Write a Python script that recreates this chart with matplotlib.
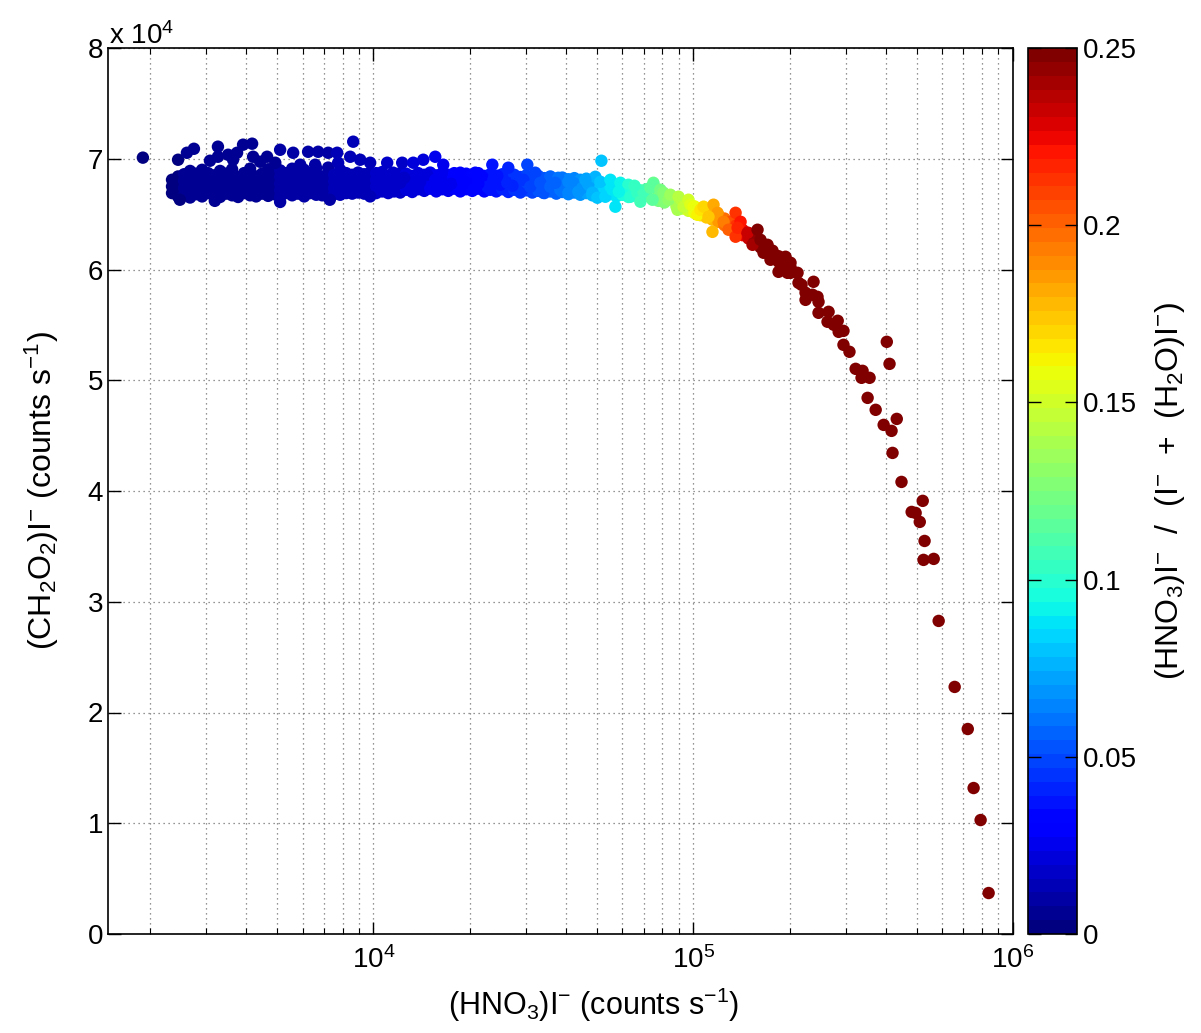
import numpy as np
import matplotlib
matplotlib.use('agg')
import matplotlib.pyplot as plt
from matplotlib.ticker import LogLocator, NullFormatter, FuncFormatter

plt.rcParams['font.family'] = ['Liberation Sans', 'DejaVu Sans']
plt.rcParams['mathtext.fontset'] = 'custom'
plt.rcParams['mathtext.rm'] = 'Liberation Sans'
plt.rcParams['mathtext.it'] = 'Liberation Sans:italic'
plt.rcParams['mathtext.bf'] = 'Liberation Sans:bold'
plt.rcParams['mathtext.default'] = 'regular'

TICK_FS = 20
LABEL_FS = 22

# dense part of the cloud: one x value per column, several y values in each
band_x = [2344, 2448, 2556, 2669, 2787, 2910, 3038, 3172, 3313, 3459,
          3612, 3771, 3937, 4112, 4294, 4483, 4682, 4889, 5105, 5331,
          5566, 5813, 6070, 6338, 6618, 6911, 7216, 7534, 7868, 8215,
          8578, 8954, 9350, 9763, 10195, 10646, 11117, 11605, 12120,
          12656, 13216, 13800, 14410, 15045, 15711, 16406, 17131, 17885, 18676,
          19502, 20366, 21267, 22204, 23186, 24210, 25281, 26399, 27562, 28782,
          30055, 31384, 32772, 34214, 35727, 37307, 38957, 40680, 42470, 44348,
          46310, 48358, 50497, 52723, 55055, 57490, 60034, 62688, 65450, 68344,
          71366, 77818, 81260, 88587, 92505, 96605, 100880, 105320, 109980, 114840,
          119930, 125240, 130770, 136560, 142560, 148870, 155460, 162310, 169490, 176980,
          184810, 192960, 201480]
band_ratio = [0.0037, 0.0038, 0.0040, 0.0042, 0.0044, 0.0045, 0.0047, 0.0050, 0.0052, 0.0054,
              0.0056, 0.0059, 0.0062, 0.0064, 0.0067, 0.0070, 0.0073, 0.0076, 0.0080, 0.0083,
              0.0087, 0.0091, 0.0095, 0.0099, 0.0103, 0.0108, 0.0113, 0.0118, 0.0123, 0.0128,
              0.0134, 0.0140, 0.0146, 0.0153, 0.0159, 0.0166, 0.0174, 0.0181, 0.0189,
              0.0198, 0.0207, 0.0216, 0.0225, 0.0235, 0.0245, 0.0256, 0.0268, 0.0279, 0.0292,
              0.0305, 0.0318, 0.0332, 0.0347, 0.0362, 0.0378, 0.0395, 0.0412, 0.0431, 0.0450,
              0.0470, 0.0490, 0.0512, 0.0535, 0.0558, 0.0583, 0.0609, 0.0636, 0.0664, 0.0693,
              0.0724, 0.0756, 0.0789, 0.0824, 0.0860, 0.0898, 0.0938, 0.0980, 0.1023, 0.1068,
              0.1115, 0.122, 0.127, 0.138, 0.145, 0.151, 0.158, 0.165, 0.172, 0.179,
              0.187, 0.196, 0.204, 0.213, 0.223, 0.233, 0.243, 0.254, 0.265, 0.277,
              0.289, 0.302, 0.315]
band_y = [
    [66900, 67500, 68100],
    [66600, 67200, 67800, 68400],
    [66750, 67350, 68000, 68600],
    [66500, 67100, 67700, 68300, 68900],
    [66800, 67400, 68000, 68650],
    [66600, 67200, 67800, 68400, 69000],
    [66900, 67500, 68100, 68700],
    [66700, 67300, 67900, 68500],
    [66550, 67150, 67750, 68350, 68900],
    [66850, 67450, 68050, 68650],
    [66700, 67300, 67900, 68500, 69050],
    [66550, 67150, 67750, 68350],
    [66900, 67500, 68100, 68700],
    [66700, 67300, 67900, 68500, 69100],
    [66600, 67200, 67800, 68400],
    [66850, 67450, 68050, 68650],
    [66650, 67250, 67850, 68450, 69050],
    [66800, 67400, 68000, 68600],
    [66550, 67150, 67750, 68350, 68950],
    [66900, 67500, 68100, 68700],
    [66700, 67300, 67900, 68500, 69100],
    [66850, 67450, 68050, 68650],
    [66600, 67200, 67800, 68400, 69000],
    [66900, 67500, 68100, 68700],
    [66750, 67350, 67950, 68550, 69150],
    [66700, 67200, 67800, 68400],
    [66850, 67450, 68050, 68650, 69200],
    [66800, 67350, 67950, 68550],
    [66750, 67200, 67800, 68400, 69000],
    [66900, 67500, 68100, 68700],
    [66850, 67350, 67950, 68550],
    [66950, 67550, 68150, 68750],
    [66850, 67400, 68000, 68600],
    [66950, 67550, 68150, 68750],
    [66900, 67500, 68100, 68700],
    [67050, 67650, 68250, 68800],
    [66900, 67500, 68100],
    [67050, 67650, 68250],
    [66950, 67550, 68150, 68700],
    [67200, 67950, 68650],
    [67000, 67750, 68450],
    [67250, 68000, 68700],
    [67100, 67850, 68550],
    [67300, 68050, 68750],
    [67050, 67800, 68500],
    [67250, 68000, 68700],
    [67100, 67850, 68550],
    [67300, 68050, 68700],
    [67050, 67800, 68500],
    [67250, 68000, 68650],
    [67100, 67850, 68550],
    [67300, 68000, 68700],
    [67050, 67800, 68450],
    [67200, 67950, 68600],
    [67050, 67750, 68450],
    [67250, 67950, 68600],
    [67000, 67700, 68400],
    [67200, 67900, 68550],
    [66950, 67650, 68350],
    [67150, 67850, 68500],
    [66950, 67650, 68300],
    [67100, 67800, 68450],
    [66900, 67600, 68250],
    [67050, 67750, 68400],
    [66850, 67550, 68200],
    [67000, 67700, 68300],
    [66800, 67500, 68150],
    [66950, 67650, 68250],
    [66750, 67450, 68100],
    [66900, 67600, 68200],
    [66700, 67400, 68050],
    [66850, 67550],
    [66650, 67350],
    [66800, 67500],
    [66600, 67300],
    [66750, 67400],
    [66550, 67250],
    [66700, 67350],
    [66500, 67150],
    [66650, 67250],
    [66200, 66900],
    [66050, 66700],
    [65700, 66300],
    [65500, 66100],
    [65300, 65900],
    [65100, 65700],
    [64900, 65500],
    [64700, 65300],
    [64500, 65100],
    [64300, 64900],
    [64000, 64600],
    [63700, 64300],
    [63400, 64000],
    [63100, 63600],
    [62800, 63300],
    [62400, 62900],
    [62000, 62500],
    [61600, 62100],
    [61200, 61700],
    [60700, 61200],
    [60200, 60700],
    [59700, 60200],
]

# remaining points, read one by one
pts_x = [1900, 2448, 2609, 2744, 3080, 3262, 3262, 3510, 3744, 3909,
         4172, 4202, 3638, 4648, 4420, 4930, 5105, 5607, 5900, 6245,
         6570, 6713, 7216, 7699, 7752, 8456, 8641, 9087, 9763, 11036,
         2480, 3190, 5105, 7300, 9760,
         12296, 13314, 14310, 15600, 16525, 11525, 12120, 11525, 13030, 13700,
         14730, 15045, 16170, 17010, 17760, 18676, 19640, 20510, 20810, 21880,
         22690, 23530, 23700, 24920, 26400, 26210, 28170, 29210, 30270, 30270,
         12470, 14000, 15600, 17500, 18950, 21270, 24390, 27200, 31380, 11720,
         32050, 29420, 30930, 33250, 33980, 35730, 37840, 38390, 40680, 42170,
         40680, 44990, 46980, 49400, 48360, 51230, 51610, 50130, 53100, 55060,
         55860, 59170, 62690, 57080, 60470, 63600, 66880, 69840, 73450, 75060,
         68340, 74520, 37000, 43700, 46000, 58500, 65500,
         75060, 78960, 80720, 83680, 84835, 89940, 89300, 93250, 96600, 98000,
         100200, 103100, 105320, 107700, 115700, 119100, 111600, 114840, 124400, 135650,
         140600, 128930, 135650, 137600, 147860, 158870, 153250, 162310, 170750, 165890,
         178230, 174420, 194350, 190200, 201480, 184810, 197160, 211900, 213400, 218100,
         237800, 224500, 236000, 244700,
         224500, 246500, 246500, 265000, 263000, 283000, 285000, 295000, 275000, 295000,
         308000, 322000, 338500, 336000, 356000, 351000, 372000, 394000, 417000, 433000,
         420000, 448000, 522000, 482000, 496000, 511000, 529000, 525000, 565000, 403000,
         411000, 585500, 657000, 722000, 753000, 792000, 839000]
pts_y = [70100, 69910, 70540, 70900, 69820, 71090, 70180, 70360, 70540, 71270,
         71360, 70180, 69910, 70180, 69730, 69640, 70810, 70540, 69460, 70630,
         69460, 70630, 70540, 70540, 69640, 70180, 71540, 69910, 69640, 69640,
         66300, 66200, 66100, 66300, 66600,
         69640, 69640, 69910, 70180, 69460, 68740, 67830, 67200, 68370, 67470,
         68550, 67470, 68370, 67470, 68280, 68740, 67830, 67200, 68740, 68370,
         67470, 69460, 68100, 67650, 69190, 67830, 68280, 67200, 69460, 67830,
         68280, 67920, 68100, 67740, 68100, 67740, 68460, 67560, 68100, 68100,
         68740, 68100, 67470, 67830, 66930, 67470, 68280, 67200, 67920, 67830,
         66930, 67380, 67650, 68370, 66930, 67920, 69820, 66480, 66570, 68100,
         67200, 67830, 67650, 65670, 66750, 66570, 66930, 67020, 67380, 67830,
         66120, 66300, 67830, 67020, 68100, 67020, 67560,
         67650, 67200, 66930, 66300, 66750, 66570, 65390, 65670, 66300, 65850,
         65670, 64940, 65390, 65670, 65850, 65120, 64760, 63400, 64310, 65120,
         64310, 63590, 62960, 63770, 63320, 63590, 62230, 62680, 62230, 61510,
         61330, 60880, 61150, 60610, 60610, 59790, 59700, 59700, 58800, 58620,
         58890, 57900, 57720, 57530,
         57260, 57080, 56090, 56180, 55280, 55370, 54370, 54460, 55010, 53200,
         52570, 51030, 50850, 50220, 50220, 48410, 47330, 45970, 45430, 46510,
         43440, 40820, 39110, 38110, 38020, 37210, 35490, 33780, 33870, 53470,
         51480, 28270, 22310, 18510, 13180, 10290, 3700]
pts_ratio = [0.0030, 0.0038, 0.0041, 0.0043, 0.0048, 0.0051, 0.0051, 0.0055, 0.0058, 0.0061,
             0.0065, 0.0066, 0.0057, 0.0073, 0.0069, 0.0077, 0.0080, 0.0088, 0.0092, 0.0098,
             0.0103, 0.0105, 0.0113, 0.0120, 0.0121, 0.0132, 0.0135, 0.0142, 0.0153, 0.0172,
             0.0039, 0.0050, 0.0080, 0.0114, 0.0153,
             0.0192, 0.0208, 0.0224, 0.0244, 0.0258, 0.0180, 0.0189, 0.0180, 0.0204, 0.0214,
             0.0230, 0.0235, 0.0253, 0.0266, 0.0278, 0.0292, 0.0307, 0.0320, 0.0325, 0.0342,
             0.0355, 0.0368, 0.0370, 0.0389, 0.0413, 0.0410, 0.0440, 0.0456, 0.0473, 0.0473,
             0.0195, 0.0219, 0.0244, 0.0273, 0.0296, 0.0332, 0.0381, 0.0425, 0.0490, 0.0183,
             0.0501, 0.0460, 0.0483, 0.0520, 0.0531, 0.0558, 0.0591, 0.0600, 0.0636, 0.0659,
             0.0636, 0.0703, 0.0734, 0.0772, 0.0756, 0.0800, 0.0806, 0.0783, 0.0830, 0.0860,
             0.0873, 0.0925, 0.0980, 0.0892, 0.0945, 0.0994, 0.1045, 0.1091, 0.1148, 0.1173,
             0.1068, 0.1164, 0.0578, 0.0683, 0.0719, 0.0914, 0.1023,
             0.117, 0.123, 0.126, 0.131, 0.133, 0.141, 0.140, 0.146, 0.151, 0.153,
             0.157, 0.161, 0.165, 0.168, 0.181, 0.186, 0.174, 0.179, 0.194, 0.212,
             0.220, 0.201, 0.212, 0.215, 0.231, 0.248, 0.239, 0.254, 0.267, 0.259,
             0.278, 0.273, 0.304, 0.297, 0.315, 0.289, 0.308, 0.331, 0.333, 0.341,
             0.372, 0.351, 0.369, 0.382,
             0.351, 0.385, 0.385, 0.414, 0.411, 0.442, 0.445, 0.461, 0.430, 0.461,
             0.481, 0.503, 0.529, 0.525, 0.556, 0.548, 0.581, 0.616, 0.652, 0.677,
             0.656, 0.700, 0.816, 0.753, 0.775, 0.798, 0.827, 0.820, 0.883, 0.630,
             0.642, 0.915, 1.027, 1.128, 1.177, 1.238, 1.311]

x_vals, y_vals, c_vals = [], [], []
for bx, br, ys in zip(band_x, band_ratio, band_y):
    for v in ys:
        x_vals.append(bx)
        y_vals.append(v)
        c_vals.append(br)
x_vals += pts_x
y_vals += pts_y
c_vals += pts_ratio

cmap = matplotlib.colormaps['jet'].resampled(64)

fig = plt.figure(figsize=(12.01, 10.33), dpi=100)
ax = fig.add_axes([108 / 1201, 99 / 1033, 905 / 1201, 886 / 1033])
cax = fig.add_axes([1028 / 1201, 99 / 1033, 49 / 1201, 886 / 1033])

sc = ax.scatter(x_vals, y_vals, c=c_vals, s=80, cmap=cmap, vmin=0, vmax=0.25,
                linewidths=0, zorder=3)

ax.set_xscale('log')
ax.set_xlim(1478, 1e6)
ax.set_ylim(0, 8e4)
ax.set_yticks(np.arange(0, 80001, 10000))
ax.yaxis.set_major_formatter(FuncFormatter(lambda v, p: '%g' % (v / 1e4)))
ax.xaxis.set_minor_locator(LogLocator(base=10, subs=np.arange(2, 10), numticks=20))
ax.xaxis.set_minor_formatter(NullFormatter())

grid_kw = dict(color='0.45', linewidth=0.9, linestyle=(0, (1, 3)))
ax.grid(True, which='major', **grid_kw)
ax.grid(True, which='minor', axis='x', **grid_kw)
ax.set_axisbelow(True)

ax.tick_params(which='both', direction='in', top=True, right=True, labelsize=TICK_FS)
ax.tick_params(which='major', length=9, width=1)
ax.tick_params(which='minor', length=4.5, width=0.8)
ax.tick_params(axis='x', which='major', pad=9)
for sp in ax.spines.values():
    sp.set_linewidth(1.2)

ax.set_xlabel(r'(HNO$_3$)I$^{-}$ (counts s$^{-1}$)', fontsize=LABEL_FS, labelpad=8)
ax.xaxis.label.set_x(0.537)
ax.set_ylabel(r'(CH$_2$O$_2$)I$^{-}$ (counts s$^{-1}$)', fontsize=LABEL_FS + 1, labelpad=19)
ax.annotate(r'x 10$^{4}$', xy=(0, 1), xycoords='axes fraction', xytext=(1, 3),
            textcoords='offset points', ha='left', va='baseline', fontsize=TICK_FS)

cb = fig.colorbar(sc, cax=cax, ticks=[0, 0.05, 0.1, 0.15, 0.2, 0.25])
cb.ax.set_yticklabels(['0', '0.05', '0.1', '0.15', '0.2', '0.25'])
cb.ax.tick_params(direction='in', left=True, right=True, length=9, width=1,
                  labelsize=TICK_FS, pad=4)
cb.outline.set_linewidth(1.2)
cb.set_label(r'(HNO$_3$)I$^{-}$  /  (I$^{-}$  +  (H$_2$O)I$^{-}$)', fontsize=LABEL_FS + 1,
             labelpad=12)

fig.savefig('out.png', dpi=100)
